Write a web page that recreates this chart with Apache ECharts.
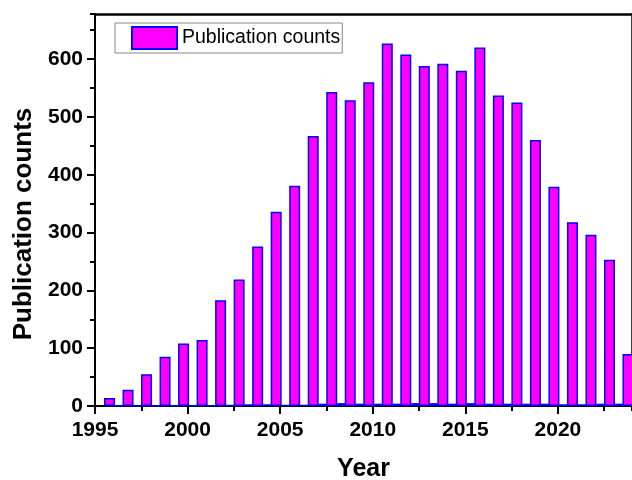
<!DOCTYPE html>
<html>
<head>
<meta charset="utf-8">
<script src="https://cdn.jsdelivr.net/npm/echarts@6/dist/echarts.min.js"></script>
<style>html,body{margin:0;padding:0;background:#fff}#c{width:632px;height:480px}</style>
</head>
<body>
<div id="c"></div>
<script>
const years = [1996,1997,1998,1999,2000,2001,2002,2003,2004,2005,2006,2007,2008,2009,2010,2011,2012,2013,2014,2015,2016,2017,2018,2019,2020,2021,2022,2023,2024];
const publicationCounts = [14,28,55,85,108,114,183,219,276,336,381,467,543,529,560,627,608,588,592,580,620,537,525,460,379,318,296,253,90];
const secondSeries = [0,0,0,0,1,1,2,3,3,2,2,4,5,4,4,4,5,5,4,5,4,4,4,4,3,3,4,4,3];
const xTickStep = 5;
const yTickStep = 100;

const font = 'Liberation Sans, Arial, sans-serif';
const chart = echarts.init(document.getElementById('c'), null, {renderer: 'canvas'});
const pairs = a => years.map((y, i) => [y, a[i]]);
const hidden = {show: false};
chart.setOption({
  backgroundColor: '#fff',
  animation: false,
  grid: {left: 95, right: 0, top: 14, bottom: 74, containLabel: false, outerBoundsMode: 'none'},
  legend: {
    data: ['Publication counts'],
    left: 115, top: 23,
    padding: [3, 2, 3, 16],
    borderColor: '#888', borderWidth: 1,
    itemWidth: 45, itemHeight: 22,
    icon: 'rect',
    itemStyle: {color: '#FF00FF', borderColor: '#0000FF', borderWidth: 2},
    textStyle: {fontFamily: font, fontSize: 19.5, color: '#000'}
  },
  xAxis: [
    {
      type: 'value', min: 1995, max: 2024, interval: xTickStep, position: 'bottom',
      name: 'Year', nameLocation: 'middle', nameGap: 51,
      nameTextStyle: {fontFamily: font, fontSize: 25, fontWeight: 'bold', color: '#000'},
      axisLine: {show: true, onZero: false, lineStyle: {color: '#000', width: 2}},
      axisTick: {show: true, inside: false, length: 8, lineStyle: {color: '#000', width: 2}},
      axisLabel: {fontFamily: font, fontSize: 21, fontWeight: 'bold', color: '#000', margin: 14, showMaxLabel: false,
        formatter: v => String(v)},
      splitLine: hidden
    },
    {
      type: 'value', min: 1995, max: 2024, interval: xTickStep / 2, position: 'bottom',
      axisLine: {show: false, onZero: false},
      axisTick: {show: true, inside: false, length: 5, lineStyle: {color: '#000', width: 2}},
      axisLabel: hidden, splitLine: hidden
    },
    {
      type: 'value', min: 1995, max: 2024, position: 'top',
      axisLine: {show: true, onZero: false, lineStyle: {color: '#000', width: 2.5}},
      axisTick: hidden, axisLabel: hidden, splitLine: hidden
    }
  ],
  yAxis: [
    {
      type: 'value', min: 0, max: 678, interval: yTickStep, position: 'left',
      name: 'Publication counts', nameLocation: 'middle', nameGap: 44,
      nameTextStyle: {fontFamily: font, fontSize: 26, fontWeight: 'bold', color: '#000', padding: [0, 28, 0, 0]},
      axisLine: {show: true, onZero: false, lineStyle: {color: '#000', width: 2}},
      axisTick: {show: true, inside: false, length: 8, lineStyle: {color: '#000', width: 2}},
      axisLabel: {fontFamily: font, fontSize: 21, fontWeight: 'bold', color: '#000', margin: 12, showMaxLabel: false},
      splitLine: hidden
    },
    {
      type: 'value', min: 0, max: 678, interval: yTickStep / 2, position: 'left',
      axisLine: {show: false, onZero: false},
      axisTick: {show: true, inside: false, length: 5, lineStyle: {color: '#000', width: 2}},
      axisLabel: hidden, splitLine: hidden
    },
    {
      type: 'value', min: 0, max: 678, position: 'right',
      axisLine: {show: true, onZero: false, lineStyle: {color: '#000', width: 2.5}},
      axisTick: hidden, axisLabel: hidden, splitLine: hidden
    }
  ],
  series: [
    {
      name: 'Publication counts', type: 'bar', xAxisIndex: 0, yAxisIndex: 0,
      data: pairs(publicationCounts), barWidth: 11, barGap: 0,
      itemStyle: {color: '#FF00FF', borderColor: '#0000FF', borderWidth: 1.5}
    },
    {
      name: 'Other', type: 'bar', xAxisIndex: 0, yAxisIndex: 0,
      data: pairs(secondSeries), barWidth: 8, barGap: 0,
      itemStyle: {color: '#FFFFFF', borderColor: '#0000FF', borderWidth: 1.5}
    }
  ]
});
</script>
</body>
</html>
